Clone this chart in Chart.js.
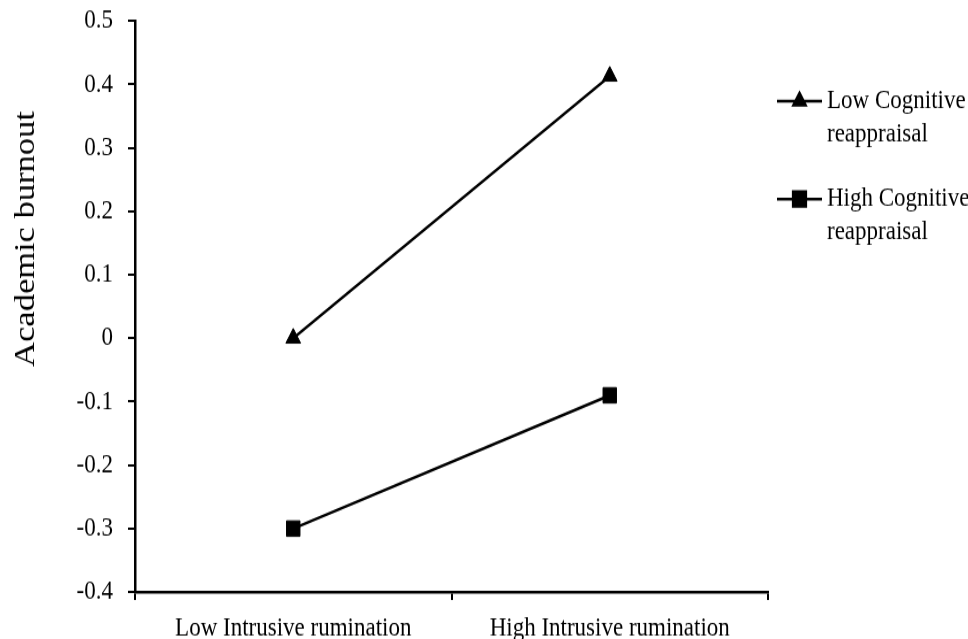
<!DOCTYPE html>
<html>
<head>
<meta charset="utf-8">
<script src="https://cdn.jsdelivr.net/npm/chart.js@4.4.1/dist/chart.umd.min.js"></script>
<style>
  html, body { margin: 0; padding: 0; background: #fff; overflow: hidden; }
  /* el original está estirado en vertical, se imita con scaleY */
  #wrap {
    position: absolute; left: 0; top: 0;
    width: 968px; height: 556px;
    transform: scaleY(1.1493); transform-origin: 0 0;
  }
</style>
</head>
<body>
<div id="wrap"><canvas id="grafica"></canvas></div>
<script>
const categorias = ['Low Intrusive rumination', 'High Intrusive rumination'];
const lowCognitive = [0, 0.413];
const highCognitive = [-0.3, -0.09];
const nombresSeries = [['Low Cognitive', 'reappraisal'], ['High Cognitive', 'reappraisal']];
const tituloY = 'Academic burnout';
const yMin = -0.4, yMax = 0.5, yPaso = 0.1;

const S = 1.1493;
const fuente = 'Liberation Serif, Times New Roman, serif';

// Título del eje Y y leyenda dibujados a mano
const extras = {
    id: 'extras',
    afterDraw(chart) {
        const ctx = chart.ctx;
        ctx.save();
        ctx.fillStyle = '#000';
        ctx.font = '30px ' + fuente;
        ctx.textAlign = 'center';
        ctx.textBaseline = 'alphabetic';
        ctx.translate(34, 239 / S);
        ctx.rotate(-Math.PI / 2);
        ctx.fillText(tituloY, 0, 0);
        ctx.restore();

        const filas = [101 / S, 199 / S];
        chart.data.datasets.forEach((ds, i) => {
            const y = filas[i];
            ctx.save();
            ctx.strokeStyle = '#000';
            ctx.lineWidth = 2.5;
            ctx.beginPath();
            ctx.moveTo(777, y);
            ctx.lineTo(822, y);
            ctx.stroke();
            ctx.fillStyle = '#000';
            Chart.helpers.drawPoint(ctx, {
                pointStyle: ds.pointStyle,
                radius: i === 0 ? 7 : 9,
                rotation: 0,
                borderWidth: 1
            }, 799.5, y);
            ctx.font = '23px ' + fuente;
            ctx.textAlign = 'left';
            ctx.textBaseline = 'middle';
            nombresSeries[i].forEach((t, k) => {
                ctx.fillText(t, 827, y + k * 33 / S);
            });
            ctx.restore();
        });
    }
};

const ctx = document.getElementById('grafica').getContext('2d');
new Chart(ctx, {
    type: 'line',
    data: {
        labels: categorias,
        datasets: [{
            label: nombresSeries[0].join(' '),
            data: lowCognitive,
            borderColor: '#000',
            backgroundColor: '#000',
            borderWidth: 2.5,
            pointStyle: 'triangle',
            pointRadius: 8.5,
            pointBorderWidth: 1,
            fill: false,
            tension: 0
        }, {
            label: nombresSeries[1].join(' '),
            data: highCognitive,
            borderColor: '#000',
            backgroundColor: '#000',
            borderWidth: 2.5,
            pointStyle: 'rect',
            pointRadius: 9.5,
            pointBorderWidth: 1,
            fill: false,
            tension: 0
        }]
    },
    options: {
        responsive: true,
        maintainAspectRatio: false,
        animation: false,
        layout: {
            padding: { left: 0, right: 200, top: 21 / S, bottom: 0 }
        },
        scales: {
            x: {
                offset: true,
                grid: {
                    offset: true,
                    drawOnChartArea: false,
                    drawTicks: true,
                    tickLength: 7,
                    color: '#000',
                    lineWidth: 2
                },
                border: { display: true, color: '#000', width: 2.5 },
                ticks: {
                    color: '#000',
                    font: { family: fuente, size: 23 },
                    padding: 11.5,
                    maxRotation: 0
                },
                afterFit(scale) {
                    scale.height = 556 - 592 / S;
                    scale.paddingLeft = 0;
                    scale.paddingRight = 0;
                }
            },
            y: {
                min: yMin,
                max: yMax,
                grid: {
                    drawOnChartArea: false,
                    drawTicks: true,
                    tickLength: 7,
                    color: '#000',
                    lineWidth: 2
                },
                border: { display: true, color: '#000', width: 2.5 },
                ticks: {
                    stepSize: yPaso,
                    color: '#000',
                    font: { family: fuente, size: 23 },
                    padding: 15,
                    callback: function (v) {
                        const r = Math.round(v * 10) / 10;
                        return r === 0 ? '0' : String(r);
                    }
                },
                afterFit(scale) {
                    scale.width = 135;
                    scale.paddingTop = 0;
                    scale.paddingBottom = 0;
                }
            }
        },
        plugins: {
            legend: { display: false },
            tooltip: { enabled: false }
        }
    },
    plugins: [extras]
});
</script>
</body>
</html>
